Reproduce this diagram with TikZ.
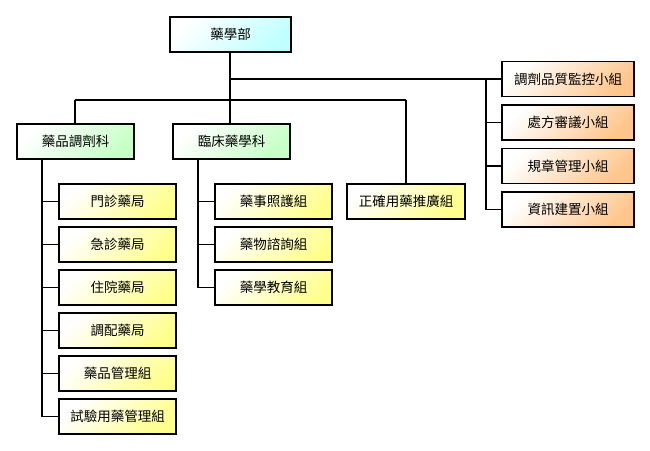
\documentclass[tikz,border=0pt]{standalone}
\usepackage{fontspec}
\newfontfamily\cjk{Noto Sans CJK TC}
\begin{document}
\begin{tikzpicture}[x=1pt,y=-1pt,
  box/.style={draw=black,line width=1.1pt,minimum height=35pt,inner sep=0pt,
    font=\cjk\fontsize{13.5}{16}\selectfont,
    top color=white,bottom color=#1,shading angle=45},
  line/.style={draw=black,line width=1.1pt}]
\useasboundingbox (0,0) rectangle (650,450);
% top
\node[box=cyan!25,minimum width=121pt] (top) at (230.5,34.5) {藥學部};
% level 2
\node[box=green!22,minimum width=117pt] (g1) at (75.5,141.5) {藥品調劑科};
\node[box=green!22,minimum width=117pt] (g2) at (231.5,141.5) {臨床藥學科};
\node[box=yellow!45,minimum width=118pt] (zq) at (406,201.5) {正確用藥推廣組};
% orange
\node[box=orange!45,minimum width=132pt] (o1) at (568,79) {調劑品質監控小組};
\node[box=orange!45,minimum width=132pt] (o2) at (568,122.5) {處方審議小組};
\node[box=orange!45,minimum width=132pt] (o3) at (568,166) {規章管理小組};
\node[box=orange!45,minimum width=132pt] (o4) at (568,209.5) {資訊建置小組};
% left column
\node[box=yellow!45,minimum width=117pt] (l1) at (117.5,201.5) {門診藥局};
\node[box=yellow!45,minimum width=117pt] (l2) at (117.5,244.5) {急診藥局};
\node[box=yellow!45,minimum width=117pt] (l3) at (117.5,287.5) {住院藥局};
\node[box=yellow!45,minimum width=117pt] (l4) at (117.5,330.5) {調配藥局};
\node[box=yellow!45,minimum width=117pt] (l5) at (117.5,373.5) {藥品管理組};
\node[box=yellow!45,minimum width=117pt] (l6) at (117.5,416.5) {試驗用藥管理組};
% middle column
\node[box=yellow!45,minimum width=117pt] (m1) at (273.5,201.5) {藥事照護組};
\node[box=yellow!45,minimum width=117pt] (m2) at (273.5,244.5) {藥物諮詢組};
\node[box=yellow!45,minimum width=117pt] (m3) at (273.5,287.5) {藥學教育組};
% connectors
\coordinate (tb) at (230,52);
\coordinate (bus) at (230,100);
\coordinate (rb) at (230,79);
\coordinate (ob) at (486,79);
\draw[line] (tb) -- (bus);
\draw[line] (75,100) -- (406,100);
\draw[line] (75,100) -- (75,124);
\draw[line] (230,100) -- (230,124);
\draw[line] (406,100) -- (zq.north -| 406,0);
\draw[line] (rb) -- (o1.west);
\draw[line] (ob) |- (o2.west);
\draw[line] (ob) |- (o3.west);
\draw[line] (ob) |- (o4.west);
\coordinate (lb) at (42,159);
\foreach \n in {l1,l2,l3,l4,l5,l6} \draw[line] (lb) |- (\n.west);
\coordinate (mb) at (198,159);
\foreach \n in {m1,m2,m3} \draw[line] (mb) |- (\n.west);
\end{tikzpicture}
\end{document}
